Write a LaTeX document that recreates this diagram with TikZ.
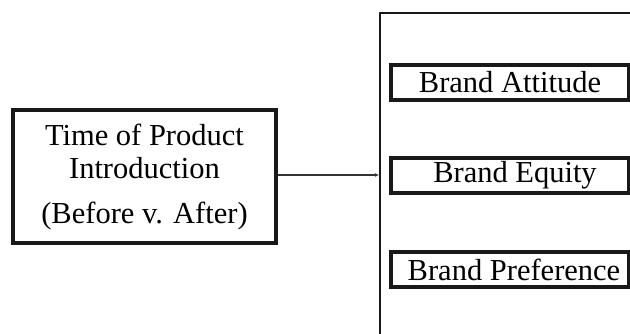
\documentclass[tikz,border=0pt]{standalone}
\usepackage{fontspec}
\setmainfont{Liberation Serif}
\usetikzlibrary{arrows.meta}
\begin{document}
\begin{tikzpicture}[x=1pt,y=-1pt,
  txt/.style={font=\fontsize{30.5}{33}\selectfont, text=black},
  leftbox/.style={draw=black!90, line width=3.5pt, minimum width=263pt, minimum height=133pt, inner sep=0pt, align=center, txt},
  outbox/.style={draw=black!90, line width=2.7pt},
  smallbox/.style={draw=black!90, line width=3.2pt, minimum width=238pt, minimum height=35pt, inner sep=0pt, txt},
  conn/.style={line width=1.3pt, draw=black!80, -{Latex[length=4pt,width=4pt]}}]
\useasboundingbox (0,0) rectangle (630,333);
\clip (0,0) rectangle (630,333);
\fill[white] (0,0) rectangle (630,333);
\node[leftbox] (time) at (144.5,176.5) {};
\node[txt, anchor=base] (t1) at (144.5,145) {Time of Product};
\node[txt, anchor=base] (t2) at (144.5,178) {Introduction};
\node[txt, anchor=base] (t3) at (144.5,223) {(Before v. After)};
\draw[outbox] (380,350) -- (380,13) -- (650,13);
\coordinate (entry) at (379,175);
\node[smallbox] (att) at (510,82.5) {Brand Attitude};
\node[smallbox] (eq) at (510,175.5) {\hspace{10pt}Brand Equity};
\node[smallbox] (pref) at (510,269.5) {\hspace{8pt}Brand Preference};
\draw[conn] (time.east |- entry) -- (entry);
\end{tikzpicture}
\end{document}
